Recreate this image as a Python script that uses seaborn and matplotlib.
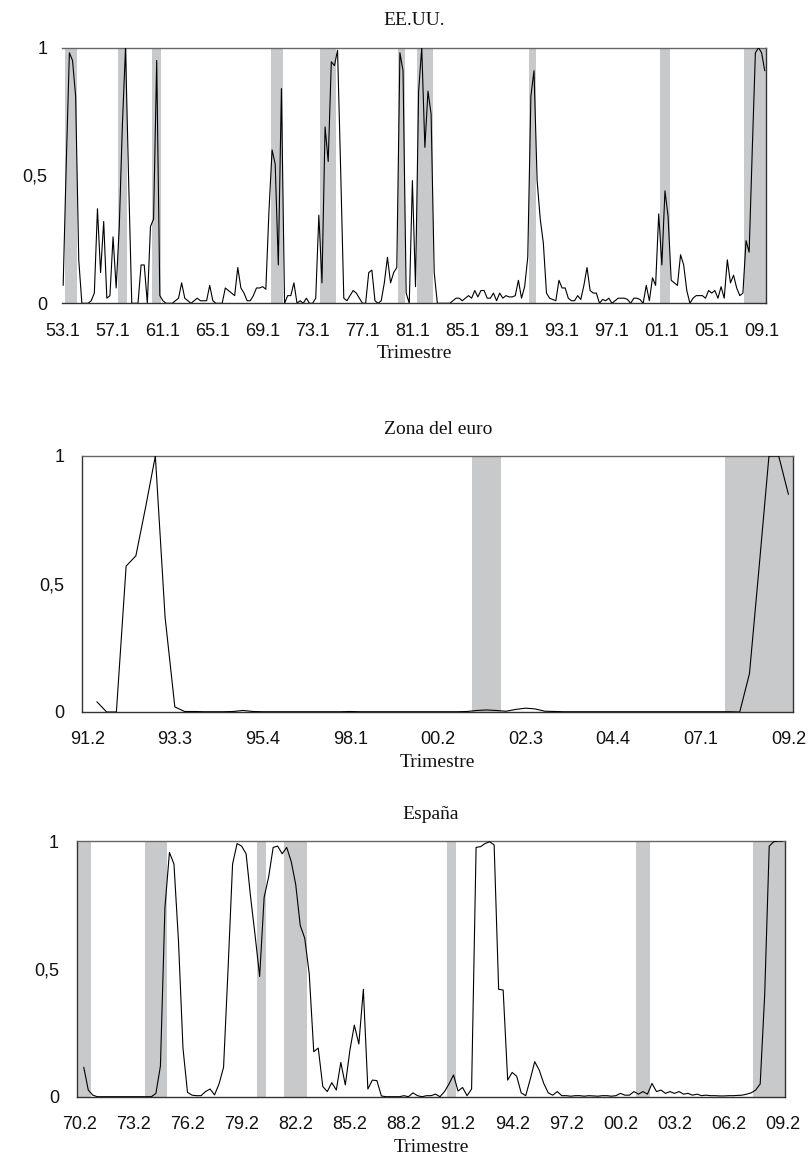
import numpy as np
import pandas as pd
import matplotlib
matplotlib.use("Agg")
import matplotlib.pyplot as plt
import seaborn as sns

sns.set_theme(style="white")
plt.rcParams['font.family'] = ['Liberation Sans', 'DejaVu Sans']
SERIF = ['Liberation Serif', 'DejaVu Serif']

# ---------------- data ----------------
us_start = (1953, 1)
us_values = [
    0.07, 0.55, 0.98, 0.95, 0.81, 0.17, 0.00, 0.00, 0.00, 0.01,
    0.04, 0.37, 0.12, 0.32, 0.02, 0.03, 0.26, 0.06, 0.30, 0.70,
    1.00, 0.48, 0.00, 0.00, 0.00, 0.15, 0.15, 0.00, 0.30, 0.33,
    0.95, 0.03, 0.01, 0.00, 0.00, 0.00, 0.01, 0.02, 0.08, 0.02,
    0.01, 0.00, 0.01, 0.02, 0.01, 0.01, 0.01, 0.07, 0.01, 0.00,
    0.00, 0.00, 0.06, 0.05, 0.04, 0.03, 0.14, 0.06, 0.04, 0.01,
    0.01, 0.03, 0.06, 0.06, 0.065, 0.055, 0.36, 0.60, 0.545, 0.15,
    0.84, 0.00, 0.03, 0.03, 0.08, 0.00, 0.01, 0.00, 0.02, 0.00,
    0.00, 0.02, 0.345, 0.08, 0.69, 0.555, 0.945, 0.93, 0.99, 0.52,
    0.02, 0.01, 0.03, 0.05, 0.04, 0.02, 0.00, 0.00, 0.12, 0.13,
    0.01, 0.00, 0.01, 0.08, 0.18, 0.08, 0.12, 0.14, 0.98, 0.91,
    0.04, 0.00, 0.48, 0.065, 0.83, 1.00, 0.61, 0.83, 0.74, 0.12,
    0.00, 0.00, 0.00, 0.00, 0.00, 0.01, 0.02, 0.02, 0.01, 0.02,
    0.03, 0.02, 0.05, 0.025, 0.05, 0.05, 0.02, 0.02, 0.04, 0.01,
    0.04, 0.02, 0.03, 0.025, 0.025, 0.03, 0.09, 0.02, 0.065, 0.18,
    0.81, 0.91, 0.48, 0.33, 0.235, 0.04, 0.02, 0.015, 0.01, 0.09,
    0.06, 0.06, 0.02, 0.01, 0.01, 0.03, 0.015, 0.07, 0.14, 0.05,
    0.04, 0.04, 0.00, 0.015, 0.01, 0.02, 0.00, 0.01, 0.02, 0.02,
    0.02, 0.015, 0.00, 0.02, 0.02, 0.015, 0.00, 0.07, 0.01, 0.10,
    0.07, 0.35, 0.15, 0.44, 0.34, 0.09, 0.08, 0.07, 0.19, 0.15,
    0.05, 0.00, 0.02, 0.03, 0.03, 0.03, 0.02, 0.05, 0.04, 0.05,
    0.02, 0.065, 0.02, 0.17, 0.08, 0.11, 0.06, 0.03, 0.04, 0.245,
    0.20, 0.60, 0.98, 1.00, 0.98, 0.91,
]
us_recessions = [("53.2", "54.2"), ("57.3", "58.2"), ("60.2", "61.1"),
                 ("69.4", "70.4"), ("73.4", "75.1"), ("80.1", "80.3"),
                 ("81.3", "82.4"), ("90.3", "91.1"), ("01.1", "01.4"),
                 ("07.4", "09.2")]
us_ticks = ["53.1", "57.1", "61.1", "65.1", "69.1", "73.1", "77.1", "81.1",
            "85.1", "89.1", "93.1", "97.1", "01.1", "05.1", "09.1"]

ea_start = (1991, 2)
ea_values = [
    np.nan, 0.04, 0.00, 0.00, 0.57, 0.61, 0.80, 1.00, 0.37, 0.02,
    0.002, 0.002, 0.001, 0.001, 0.001, 0.002, 0.006, 0.002, 0.001, 0.001,
    0.001, 0.001, 0.001, 0.001, 0.001, 0.001, 0.001, 0.002, 0.001, 0.001,
    0.001, 0.001, 0.001, 0.001, 0.001, 0.001, 0.001, 0.001, 0.001, 0.002,
    0.006, 0.008, 0.006, 0.003, 0.010, 0.015, 0.012, 0.003, 0.002, 0.001,
    0.001, 0.001, 0.001, 0.001, 0.001, 0.001, 0.001, 0.001, 0.001, 0.001,
    0.001, 0.001, 0.001, 0.001, 0.001, 0.001, 0.001, 0.00, 0.15, 0.57,
    1.00, 1.00, 0.85,
]
ea_recessions = [("01.2", "01.4"), ("07.4", "09.2")]
ea_ticks = ["91.2", "93.3", "95.4", "98.1", "00.2", "02.3", "04.4", "07.1", "09.2"]

es_start = (1970, 2)
es_values = [
    np.nan, 0.115, 0.026, 0.006, 0.0, 0.0, 0.0, 0.0, 0.0, 0.0,
    0.0, 0.0, 0.0, 0.0, 0.0, 0.0, 0.0, 0.013, 0.12, 0.74,
    0.955, 0.91, 0.61, 0.19, 0.017, 0.006, 0.004, 0.004, 0.02, 0.03,
    0.007, 0.05, 0.115, 0.50, 0.91, 0.99, 0.98, 0.95, 0.78, 0.63,
    0.47, 0.78, 0.86, 0.975, 0.98, 0.95, 0.975, 0.92, 0.83, 0.67,
    0.62, 0.48, 0.176, 0.19, 0.04, 0.02, 0.055, 0.026, 0.134, 0.046,
    0.18, 0.28, 0.206, 0.42, 0.03, 0.065, 0.063, 0.003, 0.0, 0.0,
    0.0, 0.0, 0.004, 0.0, 0.015, 0.004, 0.0, 0.004, 0.004, 0.01,
    0.0, 0.02, 0.05, 0.085, 0.022, 0.036, 0.004, 0.03, 0.975, 0.978,
    0.99, 0.997, 0.985, 0.42, 0.417, 0.065, 0.095, 0.08, 0.015, 0.004,
    0.068, 0.137, 0.104, 0.052, 0.015, 0.006, 0.02, 0.004, 0.004, 0.002,
    0.004, 0.004, 0.002, 0.004, 0.003, 0.002, 0.004, 0.004, 0.002, 0.004,
    0.013, 0.006, 0.006, 0.02, 0.01, 0.02, 0.01, 0.052, 0.02, 0.026,
    0.013, 0.02, 0.013, 0.02, 0.01, 0.013, 0.006, 0.01, 0.004, 0.006,
    0.004, 0.004, 0.003, 0.003, 0.004, 0.004, 0.005, 0.006, 0.01, 0.015,
    0.026, 0.05, 0.40, 0.98, 0.997, 1.00, 1.00,
]
es_recessions = [("70.2", "70.4"), ("74.1", "75.1"), ("80.2", "80.3"),
                 ("81.4", "82.4"), ("90.4", "91.1"), ("01.2", "01.4"),
                 ("07.4", "09.2")]
es_ticks = ["70.2", "73.2", "76.2", "79.2", "82.2", "85.2", "88.2", "91.2",
            "94.2", "97.2", "00.2", "03.2", "06.2", "09.2"]

titles = ["EE.UU.", "Zona del euro", "España"]
xlabel = "Trimestre"
ytick_vals = [0, 0.5, 1]
ytick_text = ["0", "0,5", "1"]


def quarter_labels(start, n):
    y, q = start
    out = []
    for _ in range(n):
        out.append(f"{y % 100:02d}.{q}")
        q += 1
        if q > 4:
            q = 1
            y += 1
    return out


SHADE = "#c8c9cb"
fig = plt.figure(figsize=(8.10, 11.69), dpi=100)

# axes rectangles in figure fractions (left, bottom, width, height)
rects = [
    (61.6 / 810, 1 - 303.3 / 1169, 704.7 / 810, 255.6 / 1169),
    (82.3 / 810, 1 - 712.0 / 1169, 711.0 / 810, 256.0 / 1169),
    (77.0 / 810, 1 - 1096.7 / 1169, 708.0 / 810, 255.7 / 1169),
]

panels = [
    (us_start, us_values, us_recessions, us_ticks, "trough"),
    (ea_start, ea_values, ea_recessions, ea_ticks, "full"),
    (es_start, es_values, es_recessions, es_ticks, "full"),
]

for k, (start, vals, recs, ticks, mode) in enumerate(panels):
    ax = fig.add_axes(rects[k])
    n = len(vals)
    labels = quarter_labels(start, n)
    df = pd.DataFrame({"t": np.arange(n), "v": vals})
    for s, e in recs:
        si, ei = labels.index(s), labels.index(e)
        if mode == "trough" and ei < n - 1:
            x0, x1 = si - 0.5, ei - 0.5
        else:
            x0, x1 = si - 0.5, ei + 0.5
        ax.axvspan(x0, x1, color=SHADE, lw=0, zorder=0)
    sns.lineplot(data=df, x="t", y="v", ax=ax, color="black", lw=0.8,
                 zorder=3, clip_on=True)
    ax.set_xlim(-0.5, n - 0.5)
    ax.set_ylim(0, 1)
    ax.set_xticks([labels.index(t) for t in ticks])
    ax.set_xticklabels(ticks, fontsize=13)
    ax.set_yticks(ytick_vals)
    ax.set_yticklabels(ytick_text, fontsize=13)
    ax.tick_params(axis="x", direction="in", length=4, width=0.8,
                   colors="#222222", pad=14, labelcolor="#111111")
    if k == 0:
        ax.tick_params(axis="y", length=0, pad=10, labelcolor="#111111")
    else:
        ax.tick_params(axis="y", direction="out", length=5, width=0.8,
                       colors="#222222", pad=8, labelcolor="#111111")
    ax.set_xlabel(xlabel, fontsize=14, family=SERIF, labelpad=4, color="#111111")
    ax.set_ylabel("")
    ax.set_title(titles[k], fontsize=14, family=SERIF, pad=16, color="#111111")
    for side, sp in ax.spines.items():
        sp.set_linewidth(1.0)
        sp.set_color("#333333")
    ax.spines["top"].set_color("#666666")
    if k == 0:
        ax.spines["left"].set_visible(False)
    ax.grid(False)

fig.savefig("out.png", dpi=100)
